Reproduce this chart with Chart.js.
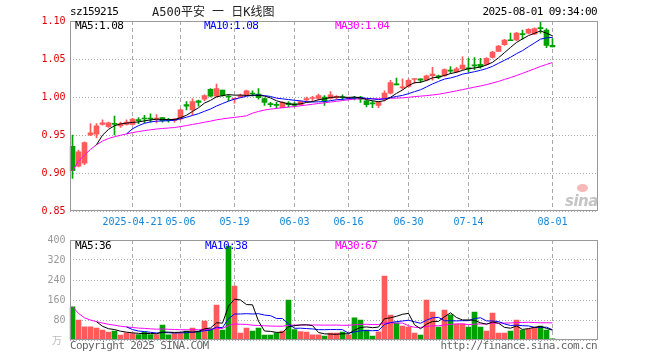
<!DOCTYPE html>
<html>
<head>
<meta charset="utf-8">
<script src="https://cdn.jsdelivr.net/npm/chart.js@4.4.1/dist/chart.umd.min.js"></script>
<style>
body { margin: 0; background: #fff; }
#wrap { position: relative; width: 660px; height: 360px; overflow: hidden; font-family: 'DejaVu Sans Mono', monospace; }
canvas { position: absolute; left: 0; }
.t { position: absolute; font-size: 11px; letter-spacing: -0.6px; line-height: 12px; white-space: nowrap; }
</style>
</head>
<body>
<div id="wrap">
  <canvas id="kline" width="660" height="230" style="top:0"></canvas>
  <canvas id="vol" width="660" height="130" style="top:230px"></canvas>

  <div class="t" style="left:70px;top:6px;color:#000">sz159215</div>
  <div class="t" style="left:152px;top:5px;color:#222;font-size:12px;letter-spacing:0;line-height:14px;font-family:'DejaVu Sans Mono','Noto Sans CJK SC',monospace">A500平安 一 日K线图</div>
  <div class="t" style="right:63px;top:6px;color:#000">2025-08-01 09:34:00</div>

  <div class="t" style="left:75px;top:20px;color:#000">MA5:1.08</div>
  <div class="t" style="left:204px;top:20px;color:#0000ff">MA10:1.08</div>
  <div class="t" style="left:335px;top:20px;color:#ff00ff">MA30:1.04</div>

  <div class="t" style="left:75px;top:240px;color:#000">MA5:36</div>
  <div class="t" style="left:205px;top:240px;color:#0000ff">MA10:38</div>
  <div class="t" style="left:335px;top:240px;color:#ff00ff">MA30:67</div>

  <div class="t" style="left:52px;top:334px;color:#bbb;font-size:10px;letter-spacing:0;font-family:'Noto Sans CJK SC',sans-serif">万</div>
  <div class="t" style="left:70px;top:340px;color:#666">Copyright 2025 SINA.COM</div>
  <div class="t" style="right:63px;top:340px;color:#666">http://finance.sina.com.cn</div>

  <div style="position:absolute;left:577px;top:184px;width:11px;height:8px;border-radius:50%;background:#f6b8b8"></div>
  <div class="t" style="left:565px;top:192px;color:#c4c4c4;font:italic bold 15px 'DejaVu Sans',sans-serif;letter-spacing:-0.5px">sina</div>
</div>

<script>
// trading days shown on the chart
const dates = [
  '2025-04-07','2025-04-08','2025-04-09','2025-04-10','2025-04-11','2025-04-14','2025-04-15','2025-04-16','2025-04-17','2025-04-18',
  '2025-04-21','2025-04-22','2025-04-23','2025-04-24','2025-04-25','2025-04-28','2025-04-29','2025-04-30',
  '2025-05-06','2025-05-07','2025-05-08','2025-05-09','2025-05-12','2025-05-13','2025-05-14','2025-05-15','2025-05-16',
  '2025-05-19','2025-05-20','2025-05-21','2025-05-22','2025-05-23','2025-05-26','2025-05-27','2025-05-28','2025-05-29','2025-05-30',
  '2025-06-03','2025-06-04','2025-06-05','2025-06-06','2025-06-09','2025-06-10','2025-06-11','2025-06-12','2025-06-13',
  '2025-06-16','2025-06-17','2025-06-18','2025-06-19','2025-06-20','2025-06-23','2025-06-24','2025-06-25','2025-06-26','2025-06-27',
  '2025-06-30','2025-07-01','2025-07-02','2025-07-03','2025-07-04','2025-07-07','2025-07-08','2025-07-09','2025-07-10','2025-07-11',
  '2025-07-14','2025-07-15','2025-07-16','2025-07-17','2025-07-18','2025-07-21','2025-07-22','2025-07-23','2025-07-24','2025-07-25',
  '2025-07-28','2025-07-29','2025-07-30','2025-07-31','2025-08-01'
];
const tickDates = ['2025-04-21','2025-05-06','2025-05-19','2025-06-03','2025-06-16','2025-06-30','2025-07-14','2025-08-01'];
const tickLabels = ['2025-04-21','05-06','05-19','06-03','06-16','06-30','07-14','08-01'];
const priceTicks = [0.85, 0.90, 0.95, 1.00, 1.05, 1.10];
const volTicks = [0, 80, 160, 240, 320, 400];
const emptySlots = 7;

const opens = [
  0.935,0.909,0.913,0.950,0.951,0.964,0.961,0.965,0.962,0.964,
  0.964,0.970,0.972,0.972,0.971,0.973,0.970,0.969,0.971,0.990,
  0.983,0.995,0.997,1.010,1.001,1.009,1.001,0.997,1.000,1.003,
  1.005,1.004,0.998,0.991,0.990,0.986,0.992,0.991,0.990,0.996,
  0.998,0.998,1.000,0.998,0.999,1.000,0.998,0.999,1.000,0.995,
  0.992,0.989,0.997,1.005,1.017,1.012,1.014,1.023,1.024,1.022,
  1.028,1.028,1.028,1.035,1.033,1.037,1.038,1.042,1.043,1.043,
  1.052,1.060,1.069,1.075,1.075,1.083,1.084,1.083,1.091,1.088,
  1.068
];
const highs = [
  0.950,0.930,0.941,0.965,0.965,0.970,0.967,0.975,0.967,0.970,
  0.972,0.973,0.976,0.978,0.977,0.973,0.972,0.972,0.984,0.994,
  0.998,0.996,1.003,1.011,1.017,1.009,1.003,0.999,1.004,1.009,
  1.008,1.011,0.999,0.993,0.993,0.994,0.994,0.993,0.995,1.000,
  1.001,1.004,1.002,1.007,1.002,1.003,1.000,1.001,1.001,0.996,
  0.995,0.994,1.008,1.022,1.025,1.024,1.024,1.024,1.024,1.029,
  1.039,1.029,1.037,1.040,1.039,1.053,1.051,1.052,1.051,1.052,
  1.060,1.068,1.076,1.084,1.085,1.088,1.090,1.091,1.099,1.090,
  1.077
];
const lows = [
  0.893,0.908,0.911,0.949,0.946,0.963,0.960,0.950,0.960,0.963,
  0.963,0.965,0.966,0.967,0.966,0.967,0.967,0.967,0.970,0.983,
  0.976,0.988,0.995,1.000,1.000,1.001,0.995,0.992,0.999,1.002,
  1.001,0.997,0.989,0.987,0.985,0.986,0.987,0.987,0.989,0.994,
  0.995,0.996,0.989,0.997,0.997,0.996,0.996,0.996,0.993,0.987,
  0.986,0.986,0.995,1.004,1.016,1.010,1.013,1.018,1.019,1.021,
  1.022,1.024,1.027,1.031,1.032,1.036,1.033,1.036,1.038,1.042,
  1.051,1.060,1.068,1.074,1.074,1.076,1.083,1.082,1.084,1.065,
  1.066
];
const closes = [
  0.903,0.928,0.940,0.953,0.962,0.966,0.966,0.964,0.965,0.967,
  0.971,0.969,0.971,0.971,0.972,0.969,0.969,0.971,0.983,0.988,
  0.994,0.993,1.002,1.001,1.011,1.002,1.000,0.998,1.002,1.008,
  1.004,0.999,0.993,0.990,0.989,0.993,0.990,0.989,0.994,0.998,
  0.999,1.002,0.995,1.003,1.001,0.999,0.999,0.998,0.997,0.990,
  0.991,0.993,1.005,1.019,1.016,1.013,1.022,1.024,1.022,1.028,
  1.030,1.026,1.036,1.034,1.037,1.042,1.037,1.041,1.040,1.051,
  1.059,1.067,1.075,1.074,1.084,1.082,1.089,1.090,1.090,1.068,
  1.066
];
// volume in 万
const volumes = [
  133,80,53,53,48,40,32,36,20,29,
  26,22,32,22,22,60,21,26,26,36,
  48,36,76,45,140,40,376,216,28,48,
  36,48,20,20,29,36,160,42,34,32,
  21,21,16,28,28,32,21,89,80,40,
  16,33,256,100,69,56,52,28,20,160,
  112,52,120,101,64,64,52,112,52,36,
  108,28,28,36,80,40,44,52,56,40,
  5
];

const UP = '#ff5a5a', DOWN = '#00a000';
const FONT = { family: 'DejaVu Sans Mono', size: 10 };

function movingAvg(vals, n, fromStart) {
  return vals.map((v, i) => {
    if (i < n - 1 && !fromStart) return null;
    const seg = vals.slice(Math.max(0, i - n + 1), i + 1);
    return seg.reduce((a, b) => a + b, 0) / seg.length;
  });
}

const labels = dates.concat(Array(emptySlots).fill(''));
const tickIdx = tickDates.map(d => dates.indexOf(d));
const candleColors = closes.map((c, i) => c >= opens[i] ? UP : DOWN);

const framePlugin = {
  id: 'frame',
  afterDraw(chart) {
    const a = chart.chartArea, ctx = chart.ctx;
    const l = Math.round(a.left) + 0.5, r = Math.round(a.right) - 0.5;
    const t = Math.round(a.top) + 0.5, b = Math.round(a.bottom) - 0.5;
    ctx.save();
    ctx.strokeStyle = '#999';
    ctx.lineWidth = 1;
    ctx.strokeRect(l, t, r - l, b - t);
    ctx.restore();
  }
};

function xScale(showLabels) {
  return {
    type: 'category',
    offset: true,
    grid: {
      offset: false,
      drawTicks: false,
      color: ctx => tickIdx.includes(ctx.index) ? '#aaa' : 'rgba(0,0,0,0)'
    },
    border: { display: false, dash: [4, 3] },
    ticks: {
      display: showLabels,
      autoSkip: false, maxRotation: 0, minRotation: 0,
      color: '#1485d8', font: FONT, padding: 5,
      callback: (v, i) => {
        const k = tickIdx.indexOf(i);
        return k >= 0 ? tickLabels[k] : '';
      }
    },
    afterFit: s => { s.height = showLabels ? 19 : 0; }
  };
}

function yScale(tickVals, color, fmt) {
  return {
    min: tickVals[0], max: tickVals[tickVals.length - 1],
    afterBuildTicks: s => { s.ticks = tickVals.map(v => ({ value: v })); },
    grid: { color: '#aaa', drawTicks: false },
    border: { display: false, dash: [1, 2] },
    ticks: { color: color, font: FONT, padding: 4, callback: fmt },
    afterFit: s => { s.width = 69.5; }
  };
}

function maLine(data, color) {
  return {
    type: 'line', data: data, borderColor: color, borderWidth: 1,
    pointRadius: 0, tension: 0, fill: false, order: 0
  };
}

const common = {
  responsive: false,
  devicePixelRatio: 1,
  animation: false,
  events: [],
  plugins: { legend: { display: false }, tooltip: { enabled: false } }
};

new Chart(document.getElementById('kline'), {
  type: 'bar',
  data: {
    labels: labels,
    datasets: [
      maLine(movingAvg(closes, 5, false), '#000000'),
      maLine(movingAvg(closes, 10, false), '#0000ff'),
      maLine(movingAvg(closes, 30, true), '#ff00ff'),
      {
        data: opens.map((o, i) => [o, closes[i]]),
        backgroundColor: candleColors,
        barThickness: 5, minBarLength: 1, grouped: false, order: 2
      },
      {
        data: lows.map((l, i) => [l, highs[i]]),
        backgroundColor: candleColors,
        barThickness: 1, grouped: false, order: 3
      }
    ]
  },
  options: Object.assign({}, common, {
    layout: { padding: { left: 0, right: 62.5, top: 21, bottom: 0 } },
    scales: {
      x: xScale(true),
      y: yScale(priceTicks, '#e00000', v => v.toFixed(2))
    }
  }),
  plugins: [framePlugin]
});

new Chart(document.getElementById('vol'), {
  type: 'bar',
  data: {
    labels: labels,
    datasets: [
      maLine(movingAvg(volumes, 5, false), '#000000'),
      maLine(movingAvg(volumes, 10, false), '#0000ff'),
      maLine(movingAvg(volumes, 30, true), '#ff00ff'),
      {
        data: volumes,
        backgroundColor: candleColors,
        barThickness: 5, grouped: false, order: 2
      }
    ]
  },
  options: Object.assign({}, common, {
    layout: { padding: { left: 0, right: 62.5, top: 10, bottom: 20 } },
    scales: {
      x: xScale(false),
      y: yScale(volTicks, '#999', v => v === 0 ? '' : String(v))
    }
  }),
  plugins: [framePlugin]
});
</script>
</body>
</html>
